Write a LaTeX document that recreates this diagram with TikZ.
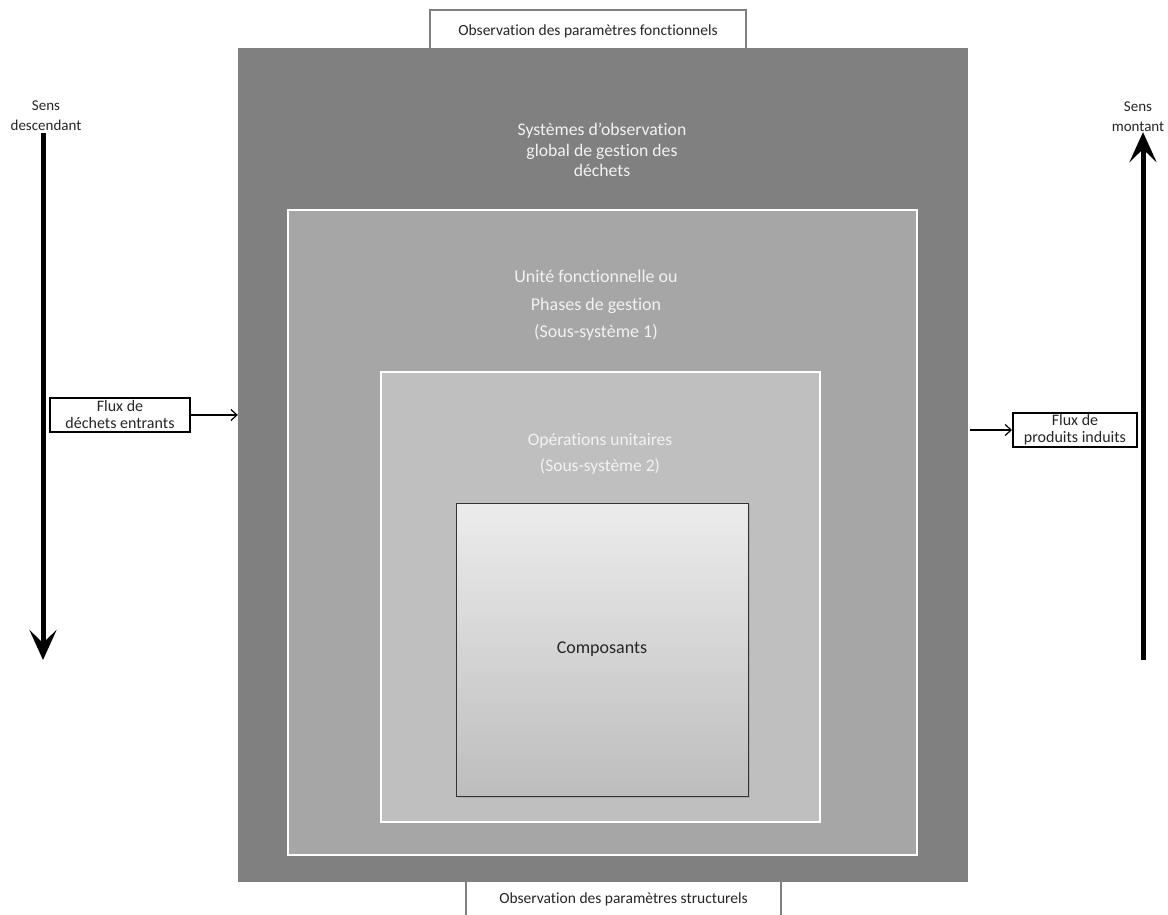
\documentclass[tikz,border=0pt]{standalone}
\usepackage{fontspec}
\setmainfont{Carlito}[Ligatures=NoCommon]
\usetikzlibrary{arrows.meta, positioning, shadows}
\definecolor{grisFonce}{RGB}{128, 128, 128}
\definecolor{grisMoyen}{RGB}{166, 166, 166}
\definecolor{grisClair}{RGB}{191, 191, 191}
\definecolor{grisHaut}{RGB}{236, 236, 236}
\definecolor{grisBas}{RGB}{189, 189, 189}
\definecolor{texteClair}{RGB}{242, 242, 242}
\definecolor{texteNoir}{RGB}{38, 38, 38}
\tikzset{
  etiquette/.style={
    draw=grisFonce, line width=2.5pt, fill=white, text=texteNoir,
    font=\fontsize{15.5}{17}\selectfont, inner sep=0pt
  },
  flux/.style={
    draw=black, line width=2pt, fill=white, text=texteNoir, align=center,
    font=\fontsize{16}{17}\selectfont, inner sep=0pt,
    minimum height=34pt
  },
  sens/.style={align=center, text=texteNoir, font=\fontsize{15}{20}\selectfont, inner sep=0pt},
  niveau/.style={draw=white, line width=2pt, inner sep=0pt},
  titre/.style={align=center, text=texteClair, inner sep=0pt},
  grosse/.style={line width=5pt, -{Stealth[length=30pt, width=27pt, inset=13pt]}},
  fine/.style={line width=1.2pt, -{Straight Barb[length=6pt, width=11pt]}},
}

\begin{document}
\begin{tikzpicture}[x=1pt, y=-1pt]
\useasboundingbox[fill=white] (0,0) rectangle (1168,915);

% observations
\node[etiquette, minimum width=316pt, minimum height=42pt] (obsF) at (588,31)
  {Observation des paramètres fonctionnels};
\node[etiquette, minimum width=315pt, minimum height=54pt] (obsS) at (623.5,899)
  {Observation des paramètres structurels};

% systemes emboites
\node[fill=grisFonce, inner sep=0pt, minimum width=730pt, minimum height=834pt] (sys) at (603,465) {};
\node[niveau, fill=grisMoyen, minimum width=629pt, minimum height=645pt] (uf) at (602.5,532.5) {};
\node[niveau, fill=grisClair, minimum width=439pt, minimum height=450pt] (ou) at (600.5,597) {};
\node[draw=black!80, line width=1pt, top color=grisHaut, bottom color=grisBas,
      minimum width=292pt, minimum height=293pt, inner sep=0pt, text=texteNoir,
      font=\fontsize{18}{20}\selectfont,
      drop shadow={opacity=0.35, shadow xshift=1.5pt, shadow yshift=-1.5pt}] (comp) at (602,649.5)
  {Composants};

\node[titre, font=\fontsize{17.7}{20.5}\selectfont] (sysT) at (602,150)
  {Systèmes d’observation\\global de gestion des\\déchets};
\node[titre, font=\fontsize{18}{27.5}\selectfont] (ufT) at (596,305.5)
  {Unité fonctionnelle ou\\Phases de gestion\\(Sous-système 1)};
\node[titre, font=\fontsize{17.5}{26}\selectfont] (ouT) at (600,454)
  {Opérations unitaires\\(Sous-système 2)};

% sens
\node[sens] (sensD) at (46,116) {Sens\\descendant};
\node[sens] (sensM) at (1138,117) {Sens\\montant};
\coordinate (dBas) at (43,660);
\coordinate (mBas) at (1143,660);
\draw[grosse] (dBas |- sensD.south) ++(0,2) -- (dBas);
\draw[grosse] (mBas) -- (mBas |- sensM.south);

% flux
\node[flux, minimum width=140pt] (fluxE) at (120,415) {Flux de\\déchets entrants};
\node[flux, minimum width=124pt] (fluxP) at (1075,430) {Flux de\\produits induits};
\draw[fine] (fluxE.east) -- (fluxE.east -| sys.west);
\draw[fine] (sys.east |- fluxP) ++(2,0) -- (fluxP.west);

\end{tikzpicture}
\end{document}
